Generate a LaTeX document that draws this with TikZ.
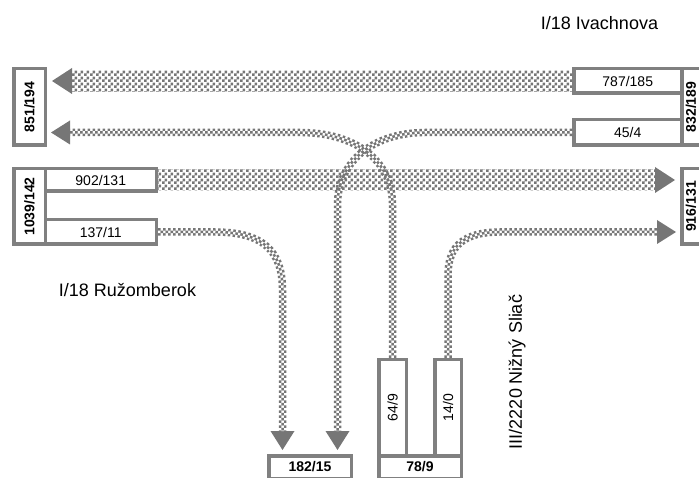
\documentclass[tikz,border=0pt]{standalone}
\usepackage{fontspec}
\setmainfont{Liberation Sans}
\usepackage{graphicx}
\usepackage{tikz}
\usetikzlibrary{arrows.meta,calc,patterns}
\definecolor{boxgray}{RGB}{128,128,128}
\definecolor{flowgray}{RGB}{118,118,118}
\pgfdeclarepatternformonly{checks}{\pgfpointorigin}{\pgfqpoint{6pt}{6pt}}{\pgfqpoint{6pt}{6pt}}{%
  \pgfpathrectangle{\pgfpointorigin}{\pgfqpoint{3pt}{3pt}}%
  \pgfpathrectangle{\pgfqpoint{3pt}{3pt}}{\pgfqpoint{3pt}{3pt}}%
  \pgfusepath{fill}}

\begin{document}
\begin{tikzpicture}[x=1pt,y=-1pt,
  box/.style={rectangle,draw=boxgray,fill=white,line width=3.5pt,inner sep=0pt,font=\fontsize{14}{16}\selectfont},
  total/.style={box,font=\fontsize{14}{16}\selectfont\bfseries},
  road/.style={inner sep=0pt,font=\fontsize{18}{20}\selectfont},
  flow/.style={draw=flowgray,line width=7.5pt,dash pattern=on 2.5pt off 2.5pt,
    -{Triangle[length=19pt,width=24pt,line width=0pt]},shorten >=4pt,
    postaction={draw=white,line width=2.5pt,-,shorten >=23pt},
    postaction={draw=flowgray,line width=2.5pt,-,shorten >=23pt,dash phase=2.5pt}},
  bigflow/.style={pattern=checks,pattern color=flowgray},
  bighead/.style={fill=flowgray}]
\useasboundingbox (0,0) rectangle (699,478);
\node[total,minimum width=31.5pt,minimum height=76.5pt] (n851) at (29.5,107) {\rotatebox{90}{851/194}};
\node[total,minimum width=31.5pt,minimum height=75.5pt] (n1039) at (29.5,206.5) {\rotatebox{90}{1039/142}};
\node[box,minimum width=111pt,minimum height=22.5pt] (n902) at (100.75,180) {902/131};
\node[box,minimum width=111pt,minimum height=24.5pt] (n137) at (100.75,232) {137/11};
\node[total,minimum width=18.5pt,minimum height=76.5pt] (n832) at (691,107) {\rotatebox{90}{832/189}};
\node[box,minimum width=108pt,minimum height=24.5pt] (n787) at (627.75,81) {787/185};
\node[box,minimum width=108pt,minimum height=25.5pt] (n45) at (627.75,132.5) {45/4};
\node[total,minimum width=18.5pt,minimum height=75.5pt] (n916) at (691,206.5) {\rotatebox{90}{916/131}};
\node[total,minimum width=82.5pt,minimum height=22.5pt] (n182) at (310,467) {182/15};
\node[total,minimum width=82.5pt,minimum height=22.5pt] (n78) at (420,467) {78/9};
\node[box,minimum width=27.5pt,minimum height=96pt] (n64) at (392.5,407.75) {\rotatebox{90}{64/9}};
\node[box,minimum width=26.5pt,minimum height=96pt] (n14) at (448,407.75) {\rotatebox{90}{14/0}};
\node[road] (ivach) at (599.5,23) {I/18 Ivachnova};
\node[road] (ruzom) at (127.5,290.5) {I/18 Ružomberok};
\node[road] (sliac) at (517,372) {\rotatebox{90}{III/2220 Nižný Sliač}};
\draw[flow] (n64.north) -- (n64.north |- 0,205) .. controls (392.5,160) and (355,132.5) .. (300,132.5) -- (n851.east |- n45.west);
\draw[flow] (n45.west) -- (425,132.5) .. controls (375,132.5) and (337.5,160) .. (337.5,205) -- ([xshift=27.5pt]n182.north);
\draw[flow] (n137.east) -- (215,232) .. controls (262,232) and (282.5,250) .. (282.5,290) -- ([xshift=-27.5pt]n182.north);
\draw[flow] (n14.north) -- (448,275) .. controls (448,245) and (465,232) .. (500,232) -- (n916.west |- n137.east);
\fill[bigflow] ($(n787.west)+(0,-10.5)$) rectangle ($(n851.east |- n787.west)+(25,10.5)$);
\fill[bighead] ($(n851.east |- n787.west)+(5,0)$) -- ++(20,-13) -- ++(0,26) -- cycle;
\fill[bigflow] ($(n902.east)+(0,-10.5)$) rectangle ($(n916.west |- n902.east)+(-25,10.5)$);
\fill[bighead] ($(n916.west |- n902.east)+(-5,0)$) -- ++(-20,-13) -- ++(0,26) -- cycle;
\end{tikzpicture}
\end{document}
